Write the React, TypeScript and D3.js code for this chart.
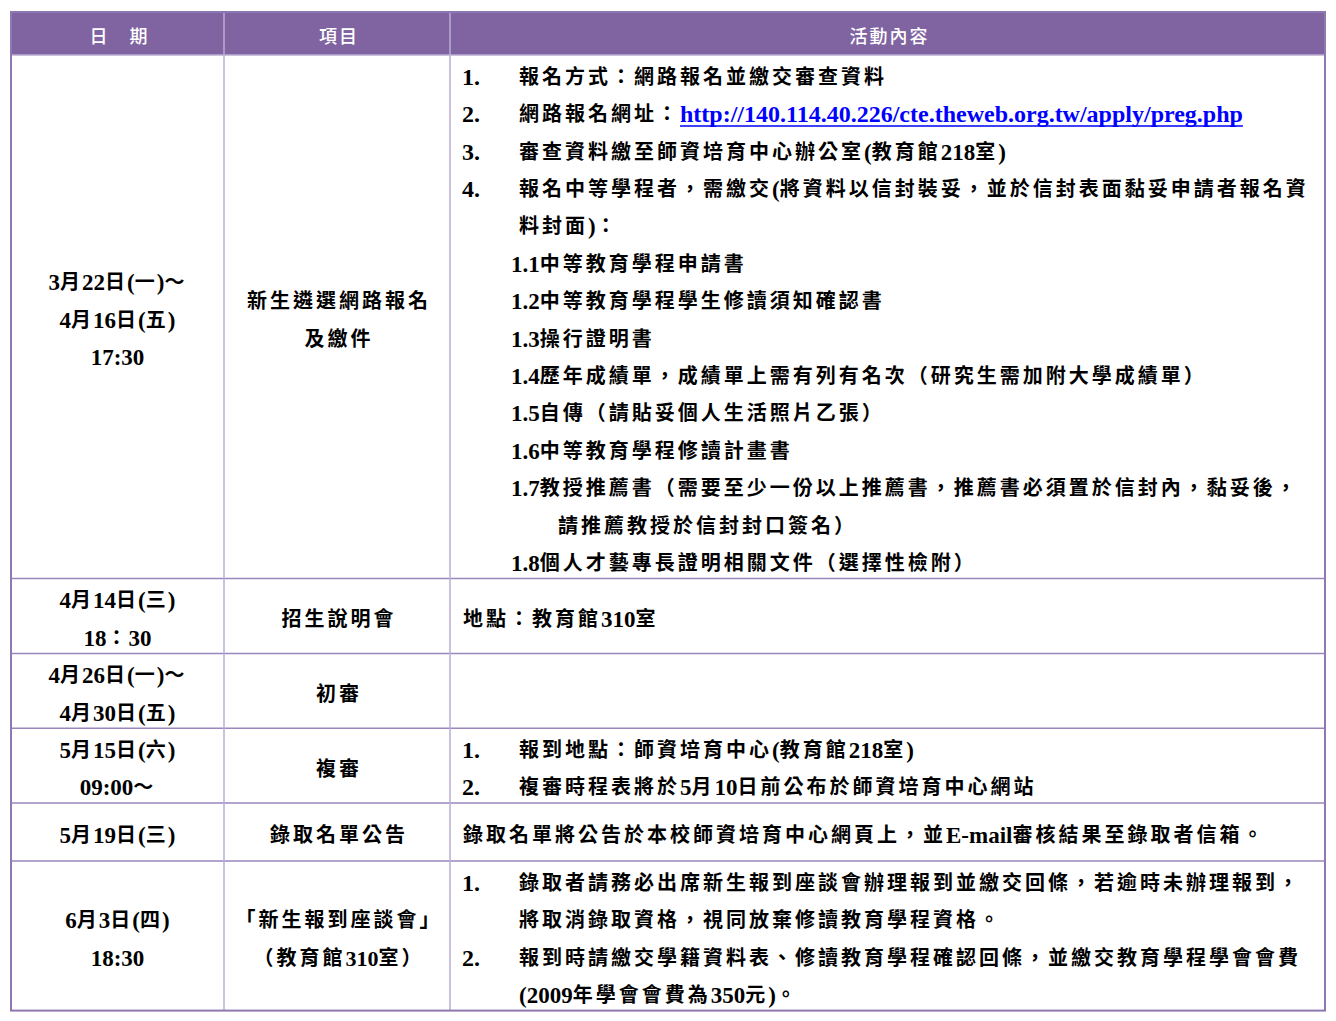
import * as d3 from "d3";
import React, { useEffect, useRef } from "react";

// table content, one entry per row
const headers = ["日　期", "項目", "活動內容"];

const dates = [
    ["3月22日(一)～", "4月16日(五)", "17:30"],
    ["4月14日(三)", "18：30"],
    ["4月26日(一)～", "4月30日(五)"],
    ["5月15日(六)", "09:00～"],
    ["5月19日(三)"],
    ["6月3日(四)", "18:30"],
];

const items = [
    ["新生遴選網路報名", "及繳件"],
    ["招生說明會"],
    ["初審"],
    ["複審"],
    ["錄取名單公告"],
    ["「新生報到座談會」", "（教育館310室）"],
];

interface Line {
    kind: "num" | "cont" | "sub" | "subcont" | "plain";
    num?: string;
    text: string;
    link?: string;
}

const contents: Line[][] = [
    [
        { kind: "num", num: "1.", text: "報名方式：網路報名並繳交審查資料" },
        { kind: "num", num: "2.", text: "網路報名網址：", link: "http://140.114.40.226/cte.theweb.org.tw/apply/preg.php" },
        { kind: "num", num: "3.", text: "審查資料繳至師資培育中心辦公室(教育館218室)" },
        { kind: "num", num: "4.", text: "報名中等學程者，需繳交(將資料以信封裝妥，並於信封表面黏妥申請者報名資" },
        { kind: "cont", text: "料封面)：" },
        { kind: "sub", text: "1.1中等教育學程申請書" },
        { kind: "sub", text: "1.2中等教育學程學生修讀須知確認書" },
        { kind: "sub", text: "1.3操行證明書" },
        { kind: "sub", text: "1.4歷年成績單，成績單上需有列有名次（研究生需加附大學成績單）" },
        { kind: "sub", text: "1.5自傳（請貼妥個人生活照片乙張）" },
        { kind: "sub", text: "1.6中等教育學程修讀計畫書" },
        { kind: "sub", text: "1.7教授推薦書（需要至少一份以上推薦書，推薦書必須置於信封內，黏妥後，" },
        { kind: "subcont", text: "請推薦教授於信封封口簽名）" },
        { kind: "sub", text: "1.8個人才藝專長證明相關文件（選擇性檢附）" },
    ],
    [{ kind: "plain", text: "地點：教育館310室" }],
    [],
    [
        { kind: "num", num: "1.", text: "報到地點：師資培育中心(教育館218室)" },
        { kind: "num", num: "2.", text: "複審時程表將於5月10日前公布於師資培育中心網站" },
    ],
    [{ kind: "plain", text: "錄取名單將公告於本校師資培育中心網頁上，並E-mail審核結果至錄取者信箱。" }],
    [
        { kind: "num", num: "1.", text: "錄取者請務必出席新生報到座談會辦理報到並繳交回條，若逾時未辦理報到，" },
        { kind: "cont", text: "將取消錄取資格，視同放棄修讀教育學程資格。" },
        { kind: "num", num: "2.", text: "報到時請繳交學籍資料表、修讀教育學程確認回條，並繳交教育學程學會會費" },
        { kind: "cont", text: "(2009年學會會費為350元)。" },
    ],
];

const FONT = '"Liberation Serif", "Noto Sans CJK TC", serif';
const CJK_RE = /([\u2E80-\u9FFF\u3000-\u303F\uFF00-\uFFEF]+)/;

export default function App() {
    const svgRef = useRef<SVGSVGElement | null>(null);

    useEffect(() => {
        if (!svgRef.current) return;
        const svg = d3.select(svgRef.current);
        svg.selectAll("*").remove();

        const width = 1336;
        const height = 1021;
        const left = 11;
        const right = 1325;
        const headTop = 12;
        const headBottom = 55;
        const step = 37.4;
        const minRow = 58;
        const colEdges = [left, 224, 450, right];

        svg.attr("width", width).attr("height", height);

        // row heights from number of text lines
        const rowLines = dates.map((d, i) => Math.max(d.length, items[i].length, contents[i].length, 1));
        const rowH = rowLines.map((n) => Math.max(n * step, minRow));
        const rowTop: number[] = [];
        rowH.reduce((acc, h) => { rowTop.push(acc); return acc + h; }, headBottom);
        const bottom = rowTop[rowTop.length - 1] + rowH[rowH.length - 1];

        const cjkSize = 20;

        // writes a string as tspans, spacing only the CJK runs
        const rich = (text: d3.Selection<SVGTextElement, unknown, null, undefined>, str: string, spacing: number, latinSize: number) => {
            str.split(CJK_RE).filter(Boolean).forEach((part) => {
                const cjk = CJK_RE.test(part);
                text.append("tspan")
                    .style("font-size", `${cjk ? cjkSize : latinSize}px`)
                    .style("letter-spacing", `${cjk ? spacing : 0}px`)
                    .text(part);
            });
        };

        // header
        svg.append("rect")
            .attr("x", left).attr("y", headTop)
            .attr("width", right - left).attr("height", headBottom - headTop)
            .attr("fill", "#8064A2");

        headers.forEach((h, i) => {
            svg.append("text")
                .attr("x", (colEdges[i] + colEdges[i + 1]) / 2 + 2)
                .attr("y", (headTop + headBottom) / 2 + 3)
                .attr("text-anchor", "middle")
                .attr("dominant-baseline", "central")
                .style("font-family", FONT)
                .style("font-size", "18px")
                .style("font-weight", 500)
                .style("letter-spacing", "2px")
                .style("fill", "white")
                .text(h);
        });

        // grid lines
        const grid = svg.append("g");
        rowTop.slice(1).forEach((y) => {
            grid.append("line")
                .attr("x1", left).attr("x2", right).attr("y1", y).attr("y2", y)
                .attr("stroke", "#9A86BC").attr("stroke-width", 1.5);
        });
        colEdges.slice(1, -1).forEach((x) => {
            grid.append("line")
                .attr("x1", x).attr("x2", x).attr("y1", headTop).attr("y2", bottom)
                .attr("stroke", "#BBAED3").attr("stroke-width", 1.5);
        });
        grid.append("line")
            .attr("x1", left).attr("x2", right).attr("y1", headBottom).attr("y2", headBottom)
            .attr("stroke", "#BBAED3").attr("stroke-width", 1.5);
        grid.append("rect")
            .attr("x", left).attr("y", headTop)
            .attr("width", right - left).attr("height", bottom - headTop)
            .attr("fill", "none").attr("stroke", "#8E78B2").attr("stroke-width", 2);

        const lineY = (r: number, i: number, n: number) =>
            rowTop[r] + rowH[r] / 2 + (i - (n - 1) / 2) * step + 3;

        const bold = (x: number, y: number, anchor: string) =>
            svg.append("text")
                .attr("x", x).attr("y", y)
                .attr("text-anchor", anchor)
                .attr("dominant-baseline", "central")
                .style("font-family", FONT)
                .style("font-weight", 700)
                .style("fill", "#000");

        // date and item columns, centred
        dates.forEach((lines, r) => {
            lines.forEach((s, i) => rich(bold((colEdges[0] + colEdges[1]) / 2, lineY(r, i, lines.length), "middle"), s, 2, 23));
        });
        items.forEach((lines, r) => {
            lines.forEach((s, i) => rich(bold((colEdges[1] + colEdges[2]) / 2 + 2, lineY(r, i, lines.length), "middle"), s, 3, 22));
        });

        // activity column
        const indent: Record<Line["kind"], number> = { num: 519, cont: 519, sub: 511, subcont: 558, plain: 463 };
        contents.forEach((lines, r) => {
            lines.forEach((ln, i) => {
                const y = lineY(r, i, lines.length);
                if (ln.num) rich(bold(462, y, "start"), ln.num, 3, 24);
                const t = bold(indent[ln.kind], y, "start");
                rich(t, ln.text, 3, 23);
                if (ln.link) {
                    const w = (t.node() as SVGTextElement).getComputedTextLength();
                    const lx = indent[ln.kind] + w;
                    const lt = bold(lx, y, "start").style("fill", "#0000FF");
                    rich(lt, ln.link, 3, 24);
                    const lw = (lt.node() as SVGTextElement).getComputedTextLength();
                    svg.append("line")
                        .attr("x1", lx).attr("x2", lx + lw)
                        .attr("y1", y + 12).attr("y2", y + 12)
                        .attr("stroke", "#0000FF").attr("stroke-width", 1.5);
                }
            });
        });
    }, []);

    return <svg ref={svgRef} style={{ position: "absolute", left: 0, top: 0, background: "white" }} />;
}
